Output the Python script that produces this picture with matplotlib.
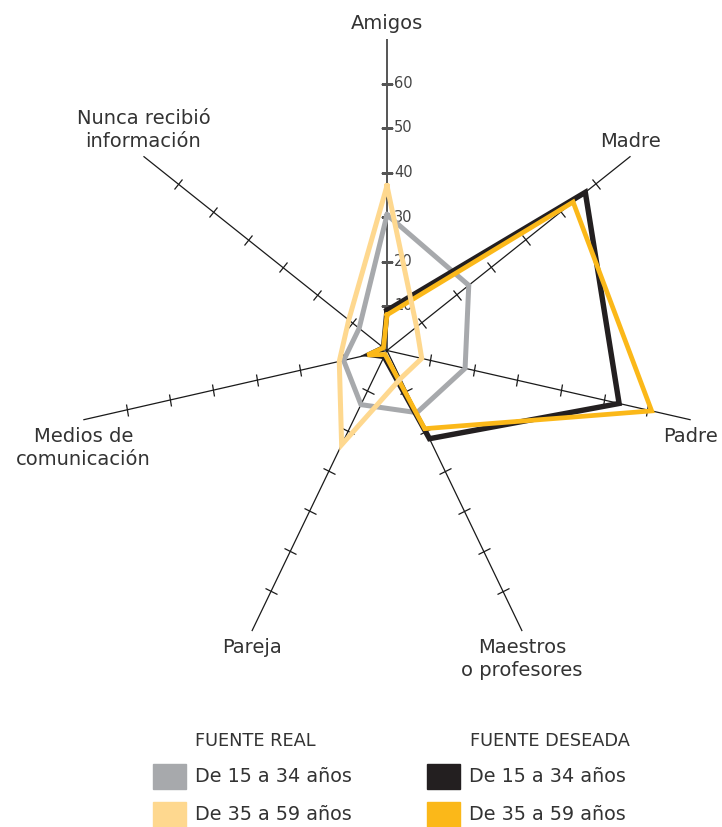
import numpy as np
import matplotlib
matplotlib.use("Agg")
import matplotlib.pyplot as plt
from matplotlib.markers import MarkerStyle
from matplotlib.transforms import Affine2D
from matplotlib.patches import Rectangle

# ---------------- data ----------------
categories = ["Amigos", "Madre", "Padre", "Maestros\no profesores", "Pareja",
              "Medios de\ncomunicación", "Nunca recibió\ninformación"]
real_15_34 = [30.5, 23.5, 18, 15.5, 13.5, 10, 8]
real_35_59 = [37, 8.5, 8, 7, 23.5, 11, 11]
deseada_15_34 = [9, 57, 53.5, 22, 1.5, 4, 1]
deseada_35_59 = [8, 53.5, 61, 19.5, 1, 4.5, 1]
tick_values = [10, 20, 30, 40, 50, 60]
r_max = 70
legend_headers = ["FUENTE REAL", "FUENTE DESEADA"]
legend_labels = ["De 15 a 34 años", "De 35 a 59 años"]

# ---------------- style ----------------
C_GRAY = "#A7A9AC"
C_LIGHT = "#FED88F"
C_BLACK = "#231F20"
C_ORANGE = "#FBB819"
TXT = "#333333"
FONT = ["DejaVu Sans"]
plt.rcParams["font.family"] = FONT

W, H = 722, 827
fig = plt.figure(figsize=(W / 100, H / 100), dpi=100)
cx, cy, rad = 387, 350.5, 311.5
ax = fig.add_axes([(cx - rad) / W, 1 - (cy + rad) / H, 2 * rad / W, 2 * rad / H],
                  projection="polar")
ax.set_theta_zero_location("N")
ax.set_theta_direction(-1)
ax.set_ylim(0, r_max)
ax.set_axis_off()

n = len(categories)
angles = np.arange(n) * 2 * np.pi / n

# axes lines and ticks
for i, th in enumerate(angles):
    col = "#555555" if i == 0 else "#1a1a1a"
    ax.plot([th, th], [0, r_max], color=col, lw=1.4 if i == 0 else 0.9, zorder=1)
    mk = MarkerStyle("_", transform=Affine2D().rotate_deg(-np.degrees(th)))
    ax.plot([th] * len(tick_values), tick_values, linestyle="none", marker=mk,
            markersize=9, markeredgewidth=0.9, color=col, zorder=1)

# tick labels on Amigos axis
for v in tick_values:
    ax.annotate(str(v), xy=(0, v), xytext=(5, 0), textcoords="offset points",
                ha="left", va="center", fontsize=10.5, color="#444444", zorder=2)

# category labels
for i, (th, lab) in enumerate(zip(angles, categories)):
    upper = np.cos(th) > 0.3 or i == 0
    ax.annotate(lab, xy=(th, r_max), xytext=(0, 4 if upper else -5),
                textcoords="offset points", ha="center",
                va="bottom" if upper else "top", fontsize=14,
                color=TXT, linespacing=1.27, annotation_clip=False)

# series
series = [(real_15_34, C_GRAY, 3.6, 3), (deseada_15_34, C_BLACK, 3.9, 4),
          (deseada_35_59, C_ORANGE, 3.4, 5), (real_35_59, C_LIGHT, 3.6, 6)]
for vals, col, lw, z in series:
    a = np.concatenate([angles, angles[:1]])
    v = list(vals) + [vals[0]]
    ax.plot(a, v, color=col, lw=lw, zorder=z, solid_joinstyle="miter")

# legend
def fx(x):
    return x / W

def fy(y):
    return 1 - y / H

fig.text(fx(195), fy(741), legend_headers[0], ha="left", va="center", fontsize=12.8, color=TXT)
fig.text(fx(470), fy(741), legend_headers[1], ha="left", va="center", fontsize=12.8, color=TXT)
legend_cols = [[C_GRAY, C_LIGHT], [C_BLACK, C_ORANGE]]
for col_i, x0 in enumerate([153, 427]):
    for row_i, y0 in enumerate([764, 802]):
        fig.patches.append(Rectangle((fx(x0), fy(y0 + 25)), 33 / W, 25 / H,
                                     transform=fig.transFigure,
                                     color=legend_cols[col_i][row_i]))
        fig.text(fx(x0 + 42), fy(y0 + 13), legend_labels[row_i], ha="left",
                 va="center", fontsize=13.8, color=TXT)

fig.savefig("out.png", dpi=100)
